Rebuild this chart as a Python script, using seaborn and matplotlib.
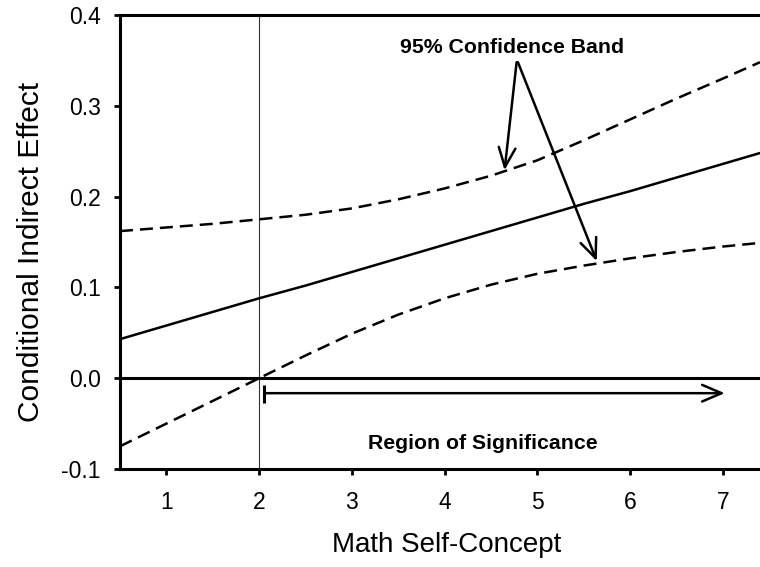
import matplotlib
matplotlib.use("Agg")
import matplotlib.pyplot as plt
import seaborn as sns
import pandas as pd
from matplotlib.patches import ArrowStyle

# ---- data ----
x_vals = [0.5, 1.0, 1.5, 2.0, 2.5, 3.0, 3.5, 4.0, 4.5, 5.0, 5.5, 6.0, 6.5, 7.0, 7.4]
effect = [0.043, 0.058, 0.073, 0.088, 0.102, 0.117, 0.132, 0.147, 0.162, 0.177, 0.192, 0.206, 0.221, 0.236, 0.248]
upper = [0.162, 0.166, 0.170, 0.175, 0.180, 0.187, 0.197, 0.209, 0.223, 0.240, 0.262, 0.285, 0.308, 0.330, 0.348]
lower = [-0.075, -0.050, -0.025, 0.000, 0.025, 0.049, 0.070, 0.088, 0.103, 0.115, 0.124, 0.132, 0.139, 0.145, 0.149]

x_ticks = [1, 2, 3, 4, 5, 6, 7]
x_tick_labels = ["1", "2", "3", "4", "5", "6", "7"]
y_ticks = [-0.1, 0.0, 0.1, 0.2, 0.3, 0.4]
y_tick_labels = ["-0.1", "0.0", "0.1", "0.2", "0.3", "0.4"]

jn_point = 2.0          # Johnson-Neyman point
region_start = 2.057
region_end = 7.02
region_y = -0.0165

sns.set_style("ticks")
plt.rcParams["font.family"] = ["Liberation Sans", "DejaVu Sans"]
plt.rcParams["axes.unicode_minus"] = False
plt.rcParams["text.color"] = "black"
plt.rcParams["axes.labelcolor"] = "black"
plt.rcParams["xtick.color"] = "black"
plt.rcParams["ytick.color"] = "black"

df = pd.concat([
    pd.DataFrame({"x": x_vals, "y": effect, "series": "Effect"}),
    pd.DataFrame({"x": x_vals, "y": upper, "series": "Upper"}),
    pd.DataFrame({"x": x_vals, "y": lower, "series": "Lower"}),
])

fig = plt.figure(figsize=(7.6, 5.67), dpi=100)
ax = fig.add_axes([120 / 760, 1 - 469 / 567, 640 / 760, (469 - 15) / 567])

sns.lineplot(
    data=df, x="x", y="y", hue="series", style="series",
    palette={"Effect": "black", "Upper": "black", "Lower": "black"},
    dashes={"Effect": "", "Upper": (5.2, 2.8), "Lower": (5.2, 2.8)},
    linewidth=1.8, legend=False, ax=ax, estimator=None, sort=True,
)

ax.axvline(jn_point, color="#333333", lw=0.8, zorder=1)
ax.axhline(0.0, color="black", lw=2.2, zorder=3)

ax.set_xlim(0.5, 7.4)
ax.set_ylim(-0.1, 0.4)
ax.set_xticks(x_ticks)
ax.set_xticklabels(x_tick_labels)
ax.set_yticks(y_ticks)
ax.set_yticklabels(y_tick_labels)

for side in ["left", "bottom", "top"]:
    ax.spines[side].set_linewidth(2.2)
    ax.spines[side].set_color("black")
ax.spines["right"].set_visible(False)

ax.tick_params(axis="both", direction="out", length=4, width=2, color="black",
               labelsize=16.5, labelcolor="black")
ax.tick_params(axis="x", pad=12)
ax.tick_params(axis="y", pad=10)

ax.set_xlabel("Math Self-Concept", fontsize=20, color="black")
ax.set_ylabel("Conditional Indirect Effect", fontsize=21.5, color="black")
ax.xaxis.set_label_coords(0.51, -0.139)
ax.yaxis.set_label_coords(-0.117, 0.478)

# annotations
ax.text(4.727, 0.358, "95% Confidence Band", fontsize=15.3, fontweight="bold",
        ha="center", va="baseline", color="black")
arrow_kw = dict(arrowstyle=ArrowStyle("->", head_length=0.7, head_width=0.3),
                lw=1.8, color="black", shrinkA=0, shrinkB=0, mutation_scale=20)
ax.annotate("", xy=(4.646, 0.229), xytext=(4.776, 0.348), arrowprops=arrow_kw)
ax.annotate("", xy=(5.64, 0.129), xytext=(4.79, 0.348), arrowprops=arrow_kw)

ax.text(4.414, -0.078, "Region of Significance", fontsize=15.3, fontweight="bold",
        ha="center", va="baseline", color="black")
ax.annotate("", xy=(region_end, region_y), xytext=(region_start, region_y),
            arrowprops=arrow_kw)
ax.vlines(region_start, region_y - 0.0105, region_y + 0.0095, color="black", lw=2.2)

fig.savefig("out.png", dpi=100)
